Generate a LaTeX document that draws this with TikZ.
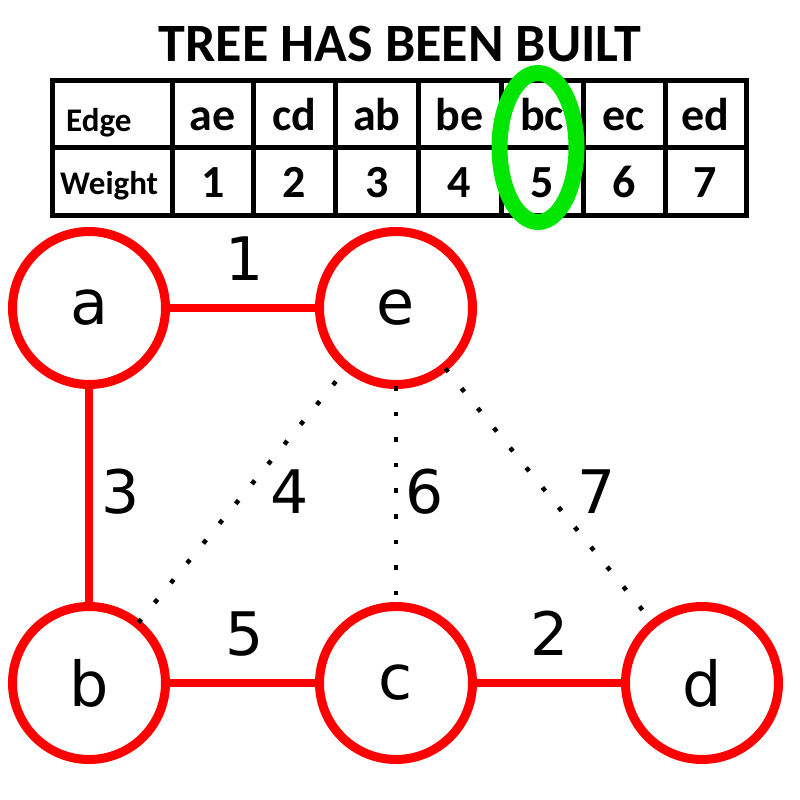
\documentclass[tikz,border=0pt]{standalone}
\usepackage{fontspec}
\setmainfont{DejaVu Sans}
\newfontfamily\tabfont{Carlito}
\usetikzlibrary{shapes.geometric}
\definecolor{treered}{RGB}{255,0,0}
\definecolor{markgreen}{RGB}{0,230,0}
\begin{document}
\begin{tikzpicture}[x=1pt,y=-1pt,
  vertex/.style={circle, draw=treered, line width=9pt, fill=white,
    minimum size=153pt, inner sep=0pt, outer sep=1.5pt,
    font=\fontsize{62}{62}\selectfont},
  treeedge/.style={draw=treered, line width=8pt},
  dotedge/.style={draw=black, line width=4.5pt, dash pattern=on 4.5pt off 21.1pt},
  wlabel/.style={anchor=base, inner sep=0pt, font=\fontsize{60}{60}\selectfont},
  gridline/.style={draw=black, line width=5pt},
  cellentry/.style={anchor=base, inner sep=0pt, font=\tabfont\bfseries\fontsize{46}{46}\selectfont},
  cellhead/.style={anchor=base west, inner sep=0pt, font=\tabfont\bfseries\fontsize{33}{33}\selectfont},
  titletext/.style={anchor=base, inner sep=0pt, font=\tabfont\bfseries\fontsize{54}{54}\selectfont},
  ring/.style={ellipse, draw=markgreen, line width=16pt, minimum width=77pt,
    minimum height=149pt, inner sep=0pt}
]
\useasboundingbox[fill=white] (0,0) rectangle (800,800);

% title
\node[titletext] (title) at (400,62) {TREE HAS BEEN BUILT};

% table
\draw[gridline] (52.5,80) rectangle (746,215.5);
\draw[gridline] (52.5,147) -- (746,147);
\foreach \xx in {172,253.5,335.5,418,501,583,665}
  \draw[gridline] (\xx,80) -- (\xx,215.5);

\node[cellhead] (hedge) at (66,131.5) {Edge};
\node[cellhead] (hweight) at (60,194.5) {Weight};

\node[cellentry] (e1) at (212.75,130) {ae};
\node[cellentry] (e2) at (294.5,130) {cd};
\node[cellentry] (e3) at (376.75,130) {ab};
\node[cellentry] (e4) at (459.5,130) {be};
\node[cellentry] (e5) at (542,130) {bc};
\node[cellentry] (e6) at (624,130) {ec};
\node[cellentry] (e7) at (705.5,130) {ed};

\node[cellentry] (w1) at (212.75,197) {1};
\node[cellentry] (w2) at (294.5,197) {2};
\node[cellentry] (w3) at (376.75,197) {3};
\node[cellentry] (w4) at (459.5,197) {4};
\node[cellentry] (w5) at (542,197) {5};
\node[cellentry] (w6) at (624,197) {6};
\node[cellentry] (w7) at (705.5,197) {7};

\node[ring] (mark) at (538,147.5) {};

% graph vertices
\node[vertex] (a) at (89,308) {a};
\node[vertex] (e) at (396,308) {e};
\node[vertex] (b) at (89,683) {b};
\node[vertex] (c) at (396,683) {c};
\node[vertex] (d) at (702,683) {d};

% tree edges
\draw[treeedge] (a) -- (e);
\draw[treeedge] (a) -- (b);
\draw[treeedge] (b) -- (c);
\draw[treeedge] (c) -- (d);

% rejected edges
\draw[dotedge] (b) -- (e);
\draw[dotedge] (e) -- (c);
\draw[dotedge] (e) -- (d);

% weights
\node[wlabel] (l1) at (245,280) {1};
\node[wlabel] (l3) at (121,513) {3};
\node[wlabel] (l4) at (290,513) {4};
\node[wlabel] (l6) at (425,513) {6};
\node[wlabel] (l7) at (597,513) {7};
\node[wlabel] (l5) at (245,655) {5};
\node[wlabel] (l2) at (550,655) {2};
\end{tikzpicture}
\end{document}
